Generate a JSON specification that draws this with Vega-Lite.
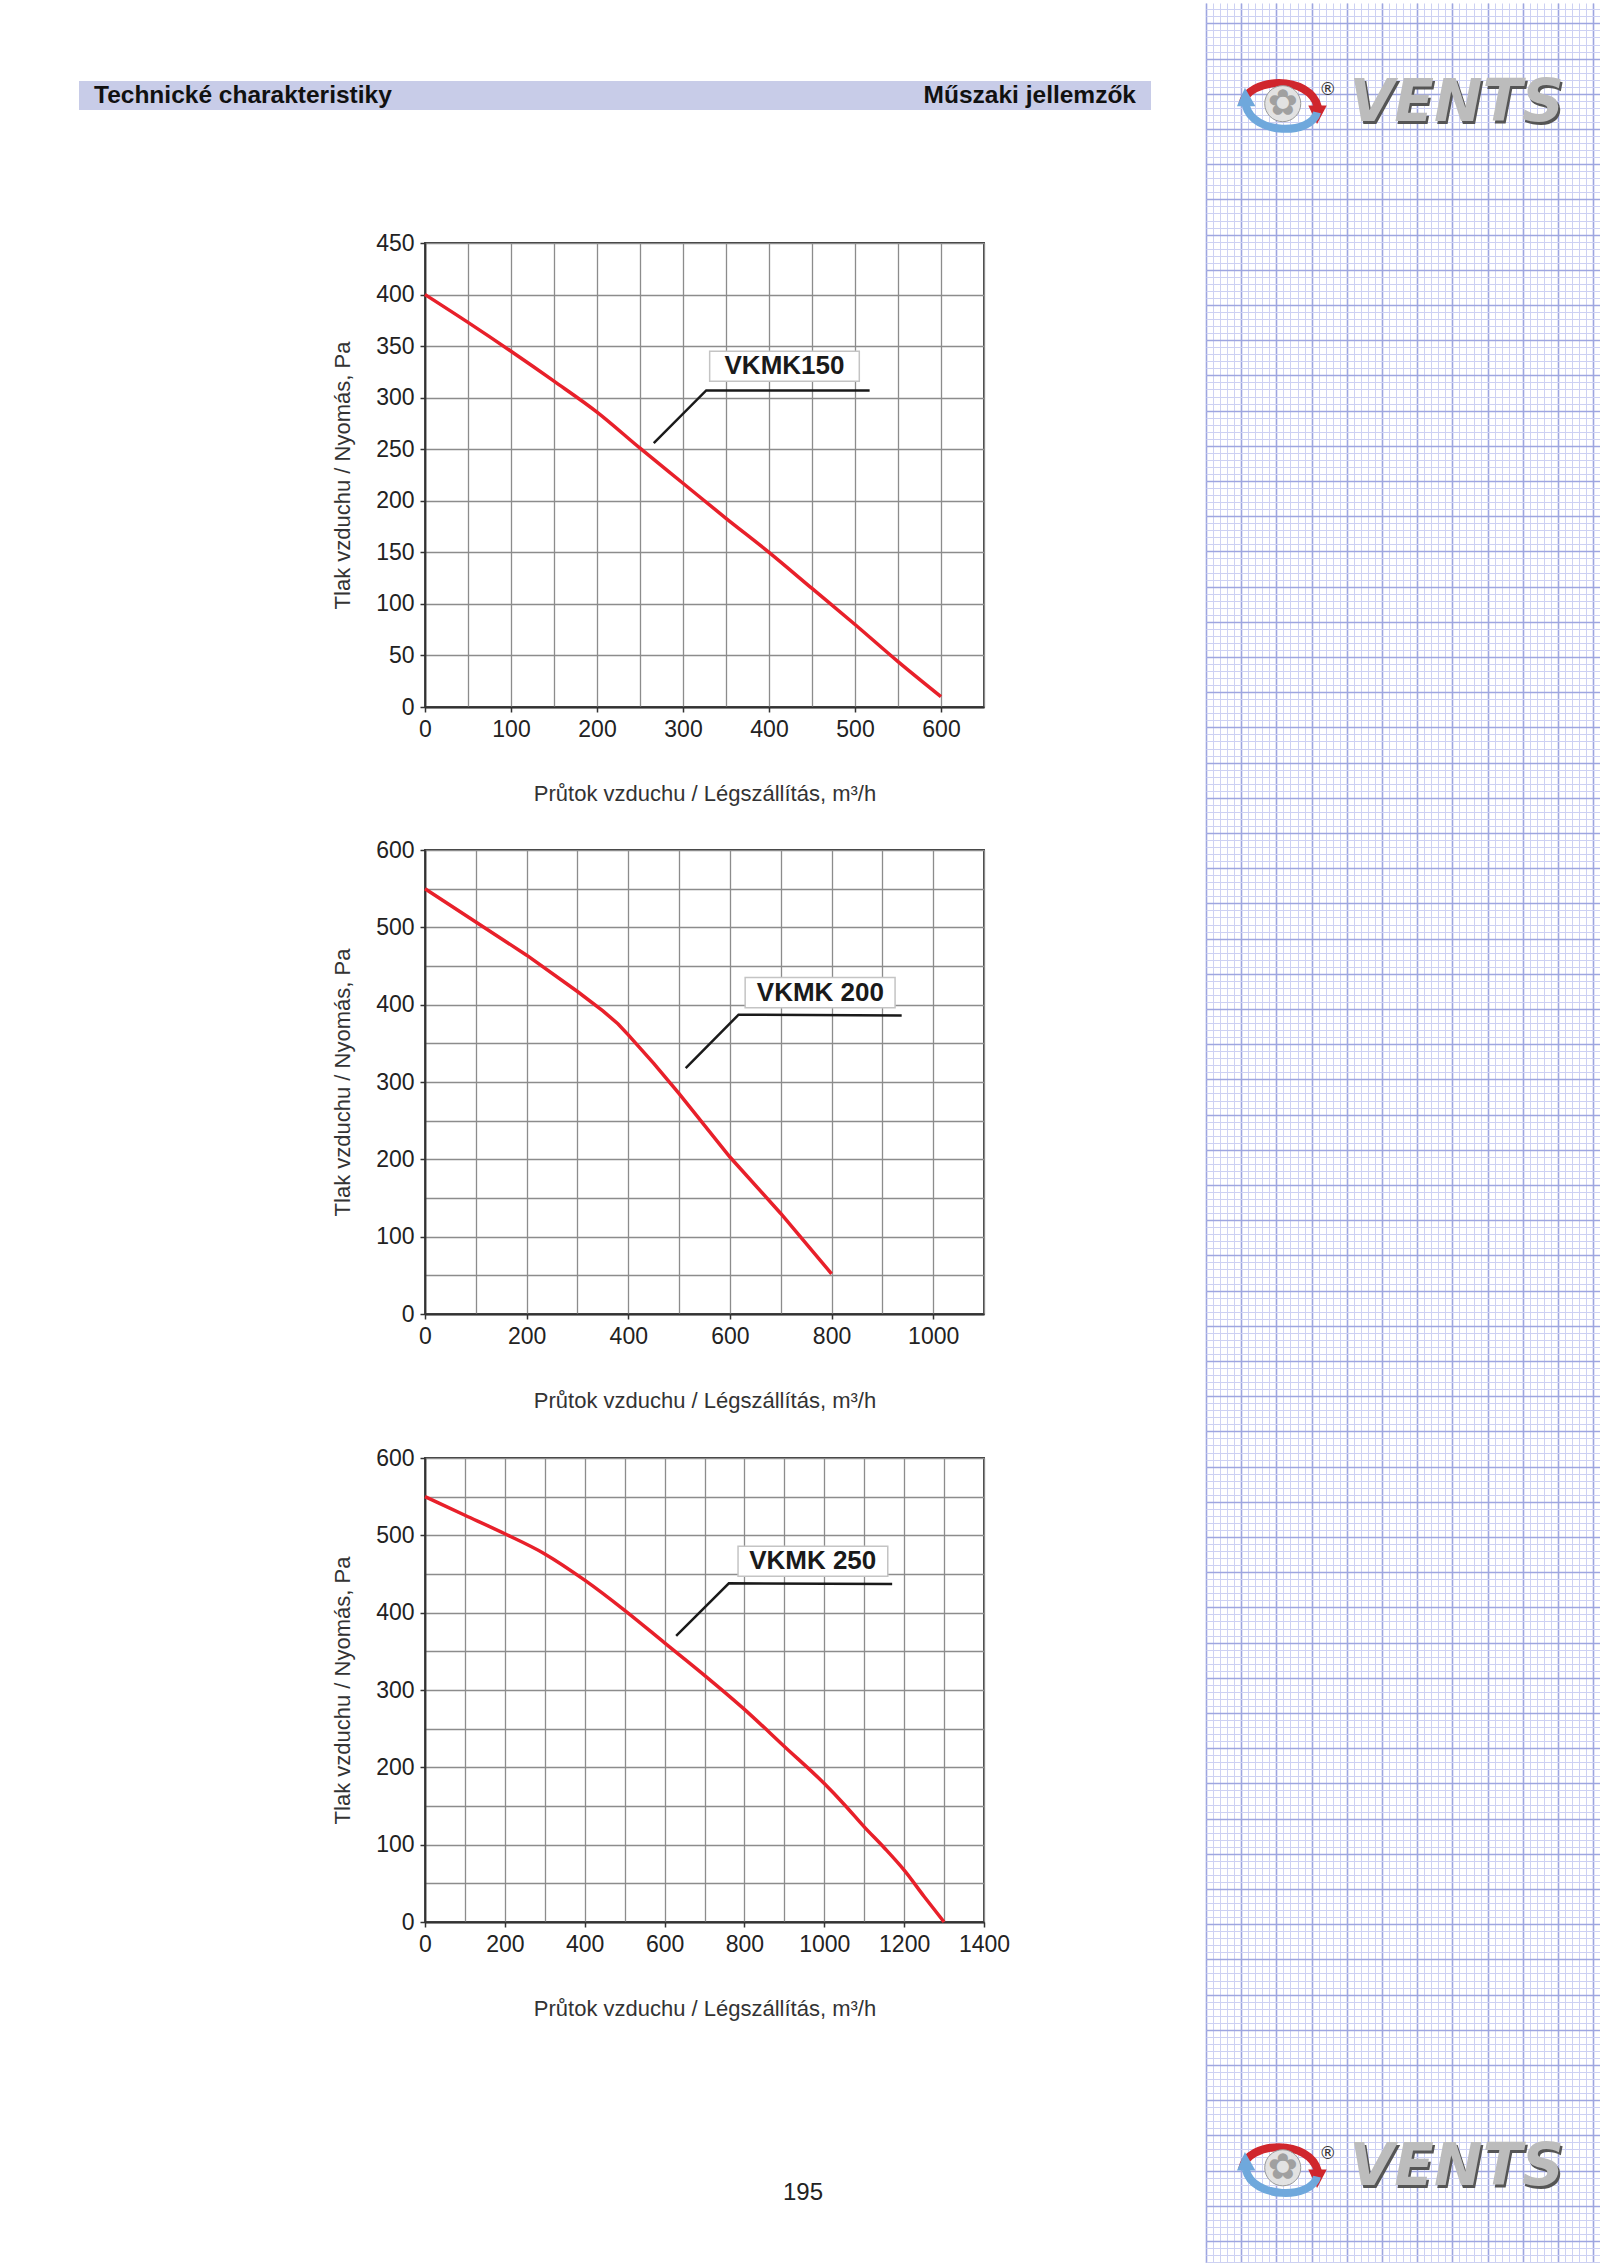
{
  "$schema": "https://vega.github.io/schema/vega-lite/v6.json",
  "padding": {"left": 76, "top": 0, "right": 0, "bottom": 0},
  "background": "white",
  "config": {
    "view": {"stroke": null},
    "font": "Liberation Sans",
    "axis": {
      "labelFont": "Liberation Sans", "titleFont": "Liberation Sans",
      "labelFontSize": 23, "titleFontSize": 22, "titleFontWeight": "normal",
      "labelColor": "#222", "titleColor": "#333",
      "gridColor": "#8c8c8c", "gridWidth": 1.3, "gridOpacity": 1,
      "domainColor": "#333", "domainWidth": 1.8,
      "tickColor": "#333", "tickWidth": 1.5, "tickSize": 5,
      "labelPadding": 6, "labelFlush": false, "labelOverlap": false, "format": "d"
    }
  },
  "columns": 2,
  "align": "each",
  "bounds": "full",
  "spacing": 22,
  "concat": [
    {
      "columns": 2,
      "align": "each",
      "bounds": "flush",
      "spacing": 0,
      "concat": [
        {"width": 1, "height": 1, "data": {"values": [{}]}, "mark": {"type": "point", "opacity": 0}, "encoding": {}},
        {"width": 726, "height": 78, "data": {"values": [{}]}, "mark": {"type": "point", "opacity": 0}, "encoding": {}},
        {
          "width": 346, "height": 29,
          "view": {"fill": "#c8cce8", "stroke": null},
          "data": {"values": [{"t": "Technické charakteristiky"}]},
          "mark": {"type": "text", "align": "left", "baseline": "middle", "dx": 15, "font": "Liberation Sans", "fontWeight": "bold", "fontSize": 24.5, "color": "#111"},
          "encoding": {
            "text": {"field": "t"},
            "x": {"datum": 0, "type": "quantitative", "scale": {"domain": [0, 1]}, "axis": null}
          }
        },
        {
          "width": 726, "height": 29,
          "view": {"fill": "#c8cce8", "stroke": null},
          "data": {"values": [{"t": "Műszaki jellemzők"}]},
          "mark": {"type": "text", "align": "right", "baseline": "middle", "dx": -15, "font": "Liberation Sans", "fontWeight": "bold", "fontSize": 24.5, "color": "#111"},
          "encoding": {
            "text": {"field": "t"},
            "x": {"datum": 1, "type": "quantitative", "scale": {"domain": [0, 1]}, "axis": null}
          }
        },
        {"width": 1, "height": 1, "data": {"values": [{}]}, "mark": {"type": "point", "opacity": 0}, "encoding": {}},
        {"width": 726, "height": 133, "data": {"values": [{}]}, "mark": {"type": "point", "opacity": 0}, "encoding": {}},
        {"width": 1, "height": 1, "data": {"values": [{}]}, "mark": {"type": "point", "opacity": 0}, "encoding": {}},
        {
          "width": 559, "height": 464,
          "view": {"stroke": "#333", "strokeWidth": 1.8},
          "encoding": {
            "x": {"field": "q", "type": "quantitative", "scale": {"domain": [0, 650], "nice": false},
              "axis": {"values": [0, 50, 100, 150, 200, 250, 300, 350, 400, 450, 500, 550, 600, 650],
                "labelExpr": "datum.value % 100 === 0 && datum.value <= 600 ? datum.label : ''",
                "tickOpacity": {"condition": {"test": "datum.value % 100 === 0 && datum.value <= 600", "value": 1}, "value": 0},
                "titlePadding": 42, "title": "Průtok vzduchu / Légszállítás, m³/h"}},
            "y": {"field": "p", "type": "quantitative", "scale": {"domain": [0, 450], "nice": false},
              "axis": {"values": [0, 50, 100, 150, 200, 250, 300, 350, 400, 450], "titlePadding": 21, "title": "Tlak vzduchu / Nyomás, Pa"}}
          },
          "layer": [
            {
              "data": {"values": [
                {"q": 0, "p": 400}, {"q": 50, "p": 373}, {"q": 100, "p": 345}, {"q": 150, "p": 316},
                {"q": 200, "p": 286}, {"q": 250, "p": 251}, {"q": 300, "p": 217}, {"q": 350, "p": 183},
                {"q": 400, "p": 150}, {"q": 450, "p": 115}, {"q": 500, "p": 80}, {"q": 550, "p": 44}, {"q": 600, "p": 10}
              ]},
              "mark": {"type": "line", "color": "#e8202a", "strokeWidth": 3.5, "interpolate": "monotone"}
            },
            {
              "data": {"values": [{"q": 266, "p": 256}, {"q": 327, "p": 307}, {"q": 517, "p": 307}]},
              "mark": {"type": "line", "color": "#1a1a1a", "strokeWidth": 2.5}
            },
            {
              "data": {"values": [{"q": 331, "q2": 505, "p": 316, "p2": 345}]},
              "mark": {"type": "rect", "fill": "white", "stroke": "#c4c4c4", "strokeWidth": 1.5},
              "encoding": {"x2": {"field": "q2"}, "y2": {"field": "p2"}}
            },
            {
              "data": {"values": [{"q": 418, "p": 330.5, "name": "VKMK150"}]},
              "mark": {"type": "text", "font": "Liberation Sans", "fontWeight": "bold", "fontSize": 26, "color": "#1a1a1a", "align": "center", "baseline": "middle"},
              "encoding": {"text": {"field": "name"}}
            }
          ]
        },
        {"width": 1, "height": 1, "data": {"values": [{}]}, "mark": {"type": "point", "opacity": 0}, "encoding": {}},
        {"width": 726, "height": 143, "data": {"values": [{}]}, "mark": {"type": "point", "opacity": 0}, "encoding": {}},
        {"width": 1, "height": 1, "data": {"values": [{}]}, "mark": {"type": "point", "opacity": 0}, "encoding": {}},
        {
          "width": 559, "height": 464,
          "view": {"stroke": "#333", "strokeWidth": 1.8},
          "encoding": {
            "x": {"field": "q", "type": "quantitative", "scale": {"domain": [0, 1100], "nice": false},
              "axis": {"values": [0, 100, 200, 300, 400, 500, 600, 700, 800, 900, 1000, 1100],
                "labelExpr": "datum.value % 200 === 0 && datum.value <= 1000 ? datum.label : ''",
                "tickOpacity": {"condition": {"test": "datum.value % 200 === 0 && datum.value <= 1000", "value": 1}, "value": 0},
                "titlePadding": 42, "title": "Průtok vzduchu / Légszállítás, m³/h"}},
            "y": {"field": "p", "type": "quantitative", "scale": {"domain": [0, 600], "nice": false},
              "axis": {"values": [0, 50, 100, 150, 200, 250, 300, 350, 400, 450, 500, 550, 600],
                "labelExpr": "datum.value % 100 === 0 ? datum.label : ''",
                "tickOpacity": {"condition": {"test": "datum.value % 100 === 0", "value": 1}, "value": 0},
                "titlePadding": 21, "title": "Tlak vzduchu / Nyomás, Pa"}}
          },
          "layer": [
            {
              "data": {"values": [
                {"q": 0, "p": 550}, {"q": 100, "p": 507}, {"q": 200, "p": 464}, {"q": 300, "p": 417},
                {"q": 350, "p": 392}, {"q": 380, "p": 375}, {"q": 400, "p": 361}, {"q": 450, "p": 324},
                {"q": 500, "p": 285}, {"q": 600, "p": 203}, {"q": 700, "p": 130}, {"q": 800, "p": 52}
              ]},
              "mark": {"type": "line", "color": "#e8202a", "strokeWidth": 3.5}
            },
            {
              "data": {"values": [{"q": 513, "p": 318}, {"q": 617, "p": 387}, {"q": 938, "p": 386}]},
              "mark": {"type": "line", "color": "#1a1a1a", "strokeWidth": 2.5}
            },
            {
              "data": {"values": [{"q": 630, "q2": 925, "p": 396, "p2": 435}]},
              "mark": {"type": "rect", "fill": "white", "stroke": "#c4c4c4", "strokeWidth": 1.5},
              "encoding": {"x2": {"field": "q2"}, "y2": {"field": "p2"}}
            },
            {
              "data": {"values": [{"q": 778, "p": 415.5, "name": "VKMK 200"}]},
              "mark": {"type": "text", "font": "Liberation Sans", "fontWeight": "bold", "fontSize": 26, "color": "#1a1a1a", "align": "center", "baseline": "middle"},
              "encoding": {"text": {"field": "name"}}
            }
          ]
        },
        {"width": 1, "height": 1, "data": {"values": [{}]}, "mark": {"type": "point", "opacity": 0}, "encoding": {}},
        {"width": 726, "height": 144, "data": {"values": [{}]}, "mark": {"type": "point", "opacity": 0}, "encoding": {}},
        {"width": 1, "height": 1, "data": {"values": [{}]}, "mark": {"type": "point", "opacity": 0}, "encoding": {}},
        {
          "width": 559, "height": 464,
          "view": {"stroke": "#333", "strokeWidth": 1.8},
          "encoding": {
            "x": {"field": "q", "type": "quantitative", "scale": {"domain": [0, 1400], "nice": false},
              "axis": {"values": [0, 100, 200, 300, 400, 500, 600, 700, 800, 900, 1000, 1100, 1200, 1300, 1400],
                "labelExpr": "datum.value % 200 === 0 ? datum.label : ''",
                "tickOpacity": {"condition": {"test": "datum.value % 200 === 0", "value": 1}, "value": 0},
                "titlePadding": 42, "title": "Průtok vzduchu / Légszállítás, m³/h"}},
            "y": {"field": "p", "type": "quantitative", "scale": {"domain": [0, 600], "nice": false},
              "axis": {"values": [0, 50, 100, 150, 200, 250, 300, 350, 400, 450, 500, 550, 600],
                "labelExpr": "datum.value % 100 === 0 ? datum.label : ''",
                "tickOpacity": {"condition": {"test": "datum.value % 100 === 0", "value": 1}, "value": 0},
                "titlePadding": 21, "title": "Tlak vzduchu / Nyomás, Pa"}}
          },
          "layer": [
            {
              "data": {"values": [
                {"q": 0, "p": 550}, {"q": 100, "p": 526}, {"q": 200, "p": 502}, {"q": 300, "p": 476},
                {"q": 400, "p": 442}, {"q": 500, "p": 403}, {"q": 600, "p": 361}, {"q": 700, "p": 319},
                {"q": 800, "p": 275}, {"q": 900, "p": 227}, {"q": 1000, "p": 179}, {"q": 1050, "p": 152},
                {"q": 1100, "p": 123}, {"q": 1150, "p": 96}, {"q": 1200, "p": 67}, {"q": 1250, "p": 33}, {"q": 1300, "p": 0}
              ]},
              "mark": {"type": "line", "color": "#e8202a", "strokeWidth": 3.5, "interpolate": "monotone"}
            },
            {
              "data": {"values": [{"q": 629, "p": 370}, {"q": 761, "p": 438}, {"q": 1170, "p": 437}]},
              "mark": {"type": "line", "color": "#1a1a1a", "strokeWidth": 2.5}
            },
            {
              "data": {"values": [{"q": 784, "q2": 1159, "p": 447, "p2": 486}]},
              "mark": {"type": "rect", "fill": "white", "stroke": "#c4c4c4", "strokeWidth": 1.5},
              "encoding": {"x2": {"field": "q2"}, "y2": {"field": "p2"}}
            },
            {
              "data": {"values": [{"q": 971, "p": 466.5, "name": "VKMK 250"}]},
              "mark": {"type": "text", "font": "Liberation Sans", "fontWeight": "bold", "fontSize": 26, "color": "#1a1a1a", "align": "center", "baseline": "middle"},
              "encoding": {"text": {"field": "name"}}
            }
          ]
        },
        {"width": 1, "height": 1, "data": {"values": [{}]}, "mark": {"type": "point", "opacity": 0}, "encoding": {}},
        {"width": 726, "height": 256, "data": {"values": [{}]}, "mark": {"type": "point", "opacity": 0}, "encoding": {}},
        {"width": 1, "height": 1, "data": {"values": [{}]}, "mark": {"type": "point", "opacity": 0}, "encoding": {}},
        {
          "width": 756, "height": 30,
          "data": {"values": [{"t": "195"}]},
          "mark": {"type": "text", "fontSize": 24, "color": "#222", "font": "Liberation Sans", "align": "center", "baseline": "middle"},
          "encoding": {"text": {"field": "t"}}
        }
      ]
    },
    {
      "width": 400, "height": 2263,
      "resolve": {"axis": {"x": "independent", "y": "independent"}},
      "layer": [
        {
          "data": {"values": [{}]},
          "mark": {"type": "point", "opacity": 0},
          "encoding": {
            "x": {"datum": 0, "type": "quantitative", "scale": {"domain": [0, 56.82], "nice": false, "zero": false},
              "axis": {"orient": "bottom", "tickCount": 60, "grid": true, "gridColor": "#cdd1f3", "gridWidth": 1, "labels": false, "ticks": false, "domain": false, "title": null}},
            "y": {"datum": 0, "type": "quantitative", "scale": {"domain": [-2.9, 318.55], "nice": false, "zero": false, "reverse": true},
              "axis": {"orient": "left", "tickCount": 330, "grid": true, "gridColor": "#cdd1f3", "gridWidth": 1, "labels": false, "ticks": false, "domain": false, "title": null}}
          }
        },
        {
          "data": {"values": [{}]},
          "mark": {"type": "point", "opacity": 0},
          "encoding": {
            "x": {"datum": 0, "type": "quantitative",
              "axis": {"orient": "top", "tickCount": 12, "grid": true, "gridColor": "#9ea6e0", "gridWidth": 1.6, "labels": false, "ticks": false, "domain": false, "title": null}},
            "y": {"datum": 0, "type": "quantitative",
              "axis": {"orient": "right", "tickCount": 66, "grid": true, "gridColor": "#9ea6e0", "gridWidth": 1.6, "labels": false, "ticks": false, "domain": false, "title": null}}
          }
        },
        {
          "data": {"values": [{"gy": 11.4}, {"gy": 304.6}]},
          "encoding": {"y": {"field": "gy", "type": "quantitative", "axis": null}},
          "layer": [
            {
              "mark": {"type": "point", "shape": "M-0.92,0.02C-0.8,-0.62,0.62,-0.66,0.8,0.08", "filled": false, "color": "#d0262d", "strokeWidth": 8, "size": 7744, "opacity": 1},
              "encoding": {"x": {"datum": 10.9, "type": "quantitative", "axis": null}}
            },
            {
              "mark": {"type": "point", "shape": "M0.58,0.04L1.0,0.04L0.78,0.46Z", "filled": true, "color": "#d0262d", "size": 7744, "opacity": 1},
              "encoding": {"x": {"datum": 10.9, "type": "quantitative", "axis": null}}
            },
            {
              "mark": {"type": "point", "shape": "M0.78,0.2C0.66,0.72,-0.68,0.72,-0.84,0.04", "filled": false, "color": "#6fa8dc", "strokeWidth": 8, "size": 7744, "opacity": 1},
              "encoding": {"x": {"datum": 10.9, "type": "quantitative", "axis": null}}
            },
            {
              "mark": {"type": "point", "shape": "M-1.04,0.06L-0.62,0.06L-0.86,-0.36Z", "filled": true, "color": "#6fa8dc", "size": 7744, "opacity": 1},
              "encoding": {"x": {"datum": 10.9, "type": "quantitative", "axis": null}}
            },
            {
              "mark": {"type": "point", "shape": "circle", "filled": true, "color": "#e2e2e2", "stroke": "#9a9a9a", "strokeWidth": 1, "size": 1300, "opacity": 1},
              "encoding": {"x": {"datum": 10.9, "type": "quantitative", "axis": null}}
            },
            {
              "mark": {"type": "text", "text": "✿", "font": "DejaVu Sans", "fontSize": 36, "color": "#a0a0a0", "align": "center", "baseline": "middle"},
              "encoding": {"x": {"datum": 10.9, "type": "quantitative", "axis": null}}
            },
            {
              "mark": {"type": "text", "text": "®", "font": "DejaVu Sans", "fontSize": 17, "color": "#333", "align": "center", "baseline": "middle", "dy": -14},
              "encoding": {"x": {"datum": 17.3, "type": "quantitative", "axis": null}}
            },
            {
              "mark": {"type": "text", "text": "VENTS", "font": "DejaVu Sans", "fontStyle": "italic", "fontWeight": "bold", "fontSize": 58, "color": "#555", "align": "center", "baseline": "middle", "dx": 2, "dy": 3},
              "encoding": {"x": {"datum": 35.6, "type": "quantitative", "axis": null}}
            },
            {
              "mark": {"type": "text", "text": "VENTS", "font": "DejaVu Sans", "fontStyle": "italic", "fontWeight": "bold", "fontSize": 58, "color": "#bcbcbc", "align": "center", "baseline": "middle"},
              "encoding": {"x": {"datum": 35.6, "type": "quantitative", "axis": null}}
            }
          ]
        }
      ]
    }
  ]
}
